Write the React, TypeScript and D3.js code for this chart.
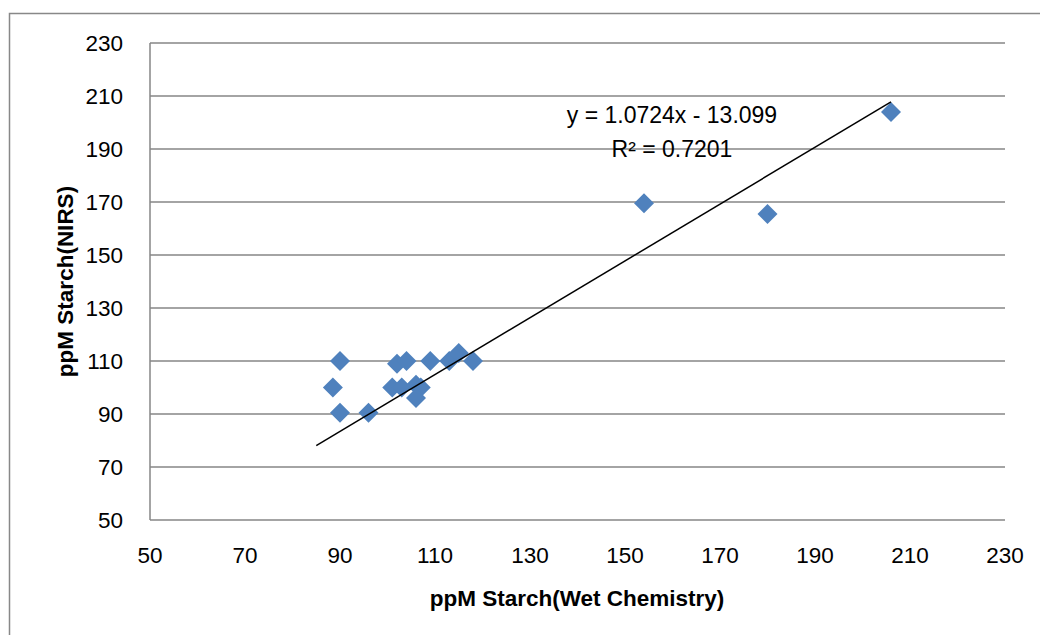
import React from "react";
import * as d3 from "d3";

const wetChem = [90, 88.5, 90, 96, 102, 104, 109, 113, 115, 118, 101, 103, 106, 107, 106, 154, 180, 206];
const nirs = [110, 100, 90.5, 90.5, 109, 110, 110, 110, 113, 110, 100, 100, 101, 100, 96, 169.5, 165.5, 204];
const xTicks = [50, 70, 90, 110, 130, 150, 170, 190, 210, 230];
const yTicks = [50, 70, 90, 110, 130, 150, 170, 190, 210, 230];
const trendSlope = 1.0724;
const trendIntercept = -13.099;
const trendRange = [85, 206];
const equationLines = ["y = 1.0724x - 13.099", "R² = 0.7201"];

export default function App() {
  const W = 1040, H = 635;
  const x = d3.scaleLinear().domain([50, 230]).range([150, 1005]);
  const y = d3.scaleLinear().domain([50, 230]).range([520, 43]);
  const font = "'Liberation Sans', Arial, sans-serif";
  const grid = "#868686";
  const line = d3.line<number>().x((d) => x(d)).y((d) => y(trendSlope * d + trendIntercept));
  const diamond = (cx: number, cy: number, r: number) =>
    `M${cx},${cy - r}L${cx + r},${cy}L${cx},${cy + r}L${cx - r},${cy}Z`;
  return (
    <svg width={W} height={H} style={{ position: "absolute", left: 0, top: 0, background: "#fff" }}>
      <rect x={9.5} y={13.5} width={1100} height={700} fill="#fff" stroke="#888" strokeWidth={1.5} />
      {yTicks.map((t) => (
        <line key={"g" + t} x1={x(50)} x2={x(230)} y1={y(t)} y2={y(t)} stroke={grid} strokeWidth={1.5} />
      ))}
      <line x1={x(50)} x2={x(50)} y1={y(50)} y2={y(230)} stroke={grid} strokeWidth={1.5} />
      {yTicks.map((t) => (
        <text key={"yl" + t} x={123} y={y(t) + 8} textAnchor="end" fontFamily={font} fontSize={22.5} fill="#000">
          {t}
        </text>
      ))}
      {xTicks.map((t) => (
        <text key={"xl" + t} x={x(t)} y={563} textAnchor="middle" fontFamily={font} fontSize={22.5} fill="#000">
          {t}
        </text>
      ))}
      <text x={577} y={606} textAnchor="middle" fontFamily={font} fontSize={22.5} fontWeight="bold">
        ppM Starch(Wet Chemistry)
      </text>
      <text
        transform={`translate(73,${(43 + 520) / 2}) rotate(-90)`}
        textAnchor="middle"
        fontFamily={font}
        fontSize={22.5}
        fontWeight="bold"
      >
        ppM Starch(NIRS)
      </text>
      {wetChem.map((v, i) => (
        <path key={"p" + i} d={diamond(x(v), y(nirs[i]), 10)} fill="#4F81BD" />
      ))}
      <path d={line(trendRange) || ""} stroke="#000" strokeWidth={1.5} fill="none" />
      <text x={672} y={123} textAnchor="middle" fontFamily={font} fontSize={23}>
        {equationLines[0]}
      </text>
      <text x={672} y={157} textAnchor="middle" fontFamily={font} fontSize={23}>
        {equationLines[1]}
      </text>
    </svg>
  );
}
